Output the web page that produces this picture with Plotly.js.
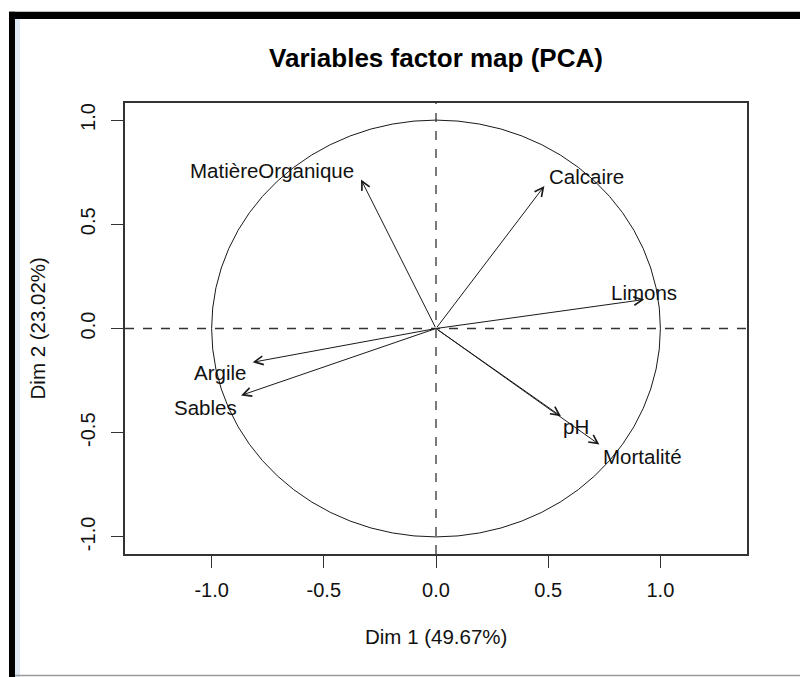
<!DOCTYPE html>
<html>
<head>
<meta charset="utf-8">
<script src="https://cdn.plot.ly/plotly-3.0.1.min.js"></script>
<style>
  html, body { margin: 0; padding: 0; background: #ffffff; }
  #chart { width: 800px; height: 677px; }
</style>
</head>
<body>
<div id="chart"></div>
<script>
// ---- data ----
const variables = ['MatièreOrganique', 'Calcaire', 'Limons', 'Argile', 'Sables', 'pH', 'Mortalité'];
const dim1 = [-0.334, 0.483, 0.928, -0.817, -0.869, 0.557, 0.728];
const dim2 = [0.715, 0.684, 0.139, -0.162, -0.321, -0.421, -0.557];
const xTickVals = [-1.0, -0.5, 0.0, 0.5, 1.0];
const xTickText = ['-1.0', '-0.5', '0.0', '0.5', '1.0'];
const yTickVals = [-1.0, -0.5, 0.0, 0.5, 1.0];
const yTickText = ['-1.0', '-0.5', '0.0', '0.5', '1.0'];
const titleText = 'Variables factor map (PCA)';
const xTitle = 'Dim 1 (49.67%)';
const yTitle = 'Dim 2 (23.02%)';

// ---- style (label offsets in pixels) ----
const labelShiftX = [-89, 42, 0, -33, -36, 15, 43];
const labelShiftY = [9, 9.5, 7, -10, -12, -10, -12];
const FONT = 'Liberation Sans, Arial, sans-serif';
const INK = '#111111';

const annotations = [];
variables.forEach((v, i) => {
  // arrow from origin to the variable coordinates
  annotations.push({
    x: dim1[i], y: dim2[i], xref: 'x', yref: 'y',
    ax: 0, ay: 0, axref: 'x', ayref: 'y',
    showarrow: true, arrowhead: 5, arrowsize: 1.7, arrowwidth: 1,
    arrowcolor: '#1a1a1a', text: '', standoff: 0
  });
  // label
  annotations.push({
    x: dim1[i], y: dim2[i], xref: 'x', yref: 'y',
    text: v, showarrow: false, xanchor: 'center', yanchor: 'middle',
    xshift: labelShiftX[i], yshift: labelShiftY[i],
    font: { family: FONT, size: 20.5, color: INK }
  });
});
// axis titles
annotations.push({
  text: xTitle, xref: 'paper', yref: 'paper', x: 0.5, y: -0.184,
  xanchor: 'center', yanchor: 'middle', showarrow: false,
  font: { family: FONT, size: 20.5, color: INK }
});
annotations.push({
  text: yTitle, xref: 'paper', yref: 'paper', x: -0.1399, y: 0.5,
  xanchor: 'center', yanchor: 'middle', showarrow: false, textangle: -90,
  font: { family: FONT, size: 20.5, color: INK }
});

const shapes = [
  // unit circle
  { type: 'circle', xref: 'x', yref: 'y', x0: -1, x1: 1, y0: -1, y1: 1,
    line: { color: '#1a1a1a', width: 1 }, layer: 'below' },
  // dashed reference lines
  { type: 'line', xref: 'paper', yref: 'y', x0: 0, x1: 1, y0: 0, y1: 0,
    line: { color: '#333333', width: 1.3, dash: 'dash' } },
  { type: 'line', xref: 'x', yref: 'paper', x0: 0, x1: 0, y0: 0, y1: 1,
    line: { color: '#333333', width: 1.3, dash: 'dash' } },
  // window frame (black bars top and left, pale strip, bottom rule)
  { type: 'rect', xref: 'paper', yref: 'paper', x0: -0.1865, x1: 1.09, y0: 1.1863, y1: 1.2024,
    fillcolor: '#000000', line: { width: 0 } },
  { type: 'rect', xref: 'paper', yref: 'paper', x0: -0.1865, x1: -0.1768, y0: -0.28, y1: 1.2024,
    fillcolor: '#000000', line: { width: 0 } },
  { type: 'rect', xref: 'paper', yref: 'paper', x0: -0.1768, x1: -0.1688, y0: -0.28, y1: 1.1863,
    fillcolor: '#dfe9f5', line: { width: 0 } },
  { type: 'line', xref: 'paper', yref: 'paper', x0: -0.1768, x1: 1.09, y0: -0.2694, y1: -0.2694,
    line: { color: '#9a9a9a', width: 1.5 } }
];

const traces = [{
  type: 'scatter', mode: 'markers',
  x: dim1, y: dim2, text: variables,
  marker: { size: 8, opacity: 0 },
  hovertemplate: '%{text}<br>Dim 1: %{x:.2f}<br>Dim 2: %{y:.2f}<extra></extra>',
  showlegend: false
}];

const axisCommon = {
  showgrid: false, zeroline: false, showline: true, mirror: true,
  linecolor: '#333333', linewidth: 1.5,
  ticks: 'outside', ticklen: 12, tickwidth: 1.2, tickcolor: '#333333',
  tickfont: { family: FONT, size: 20, color: INK },
  fixedrange: true
};

const layout = {
  width: 800, height: 677,
  margin: { l: 125, r: 53, t: 103, b: 123 },
  paper_bgcolor: '#ffffff', plot_bgcolor: '#ffffff',
  showlegend: false,
  title: {
    text: titleText, xref: 'paper', x: 0.5, xanchor: 'center',
    yref: 'container', y: 1 - 58 / 677, yanchor: 'middle',
    font: { family: FONT, size: 26, color: '#000000', weight: 'bold' }
  },
  xaxis: Object.assign({}, axisCommon, {
    range: [-1.386, 1.386], tickmode: 'array', tickvals: xTickVals, ticktext: xTickText,
    ticklabelstandoff: 5
  }),
  yaxis: Object.assign({}, axisCommon, {
    range: [-1.082, 1.082], tickmode: 'array', tickvals: yTickVals, ticktext: yTickText,
    tickangle: -90, ticklabelstandoff: 8
  }),
  shapes: shapes,
  annotations: annotations
};

Plotly.newPlot('chart', traces, layout, { displayModeBar: false, staticPlot: false });
</script>
</body>
</html>
